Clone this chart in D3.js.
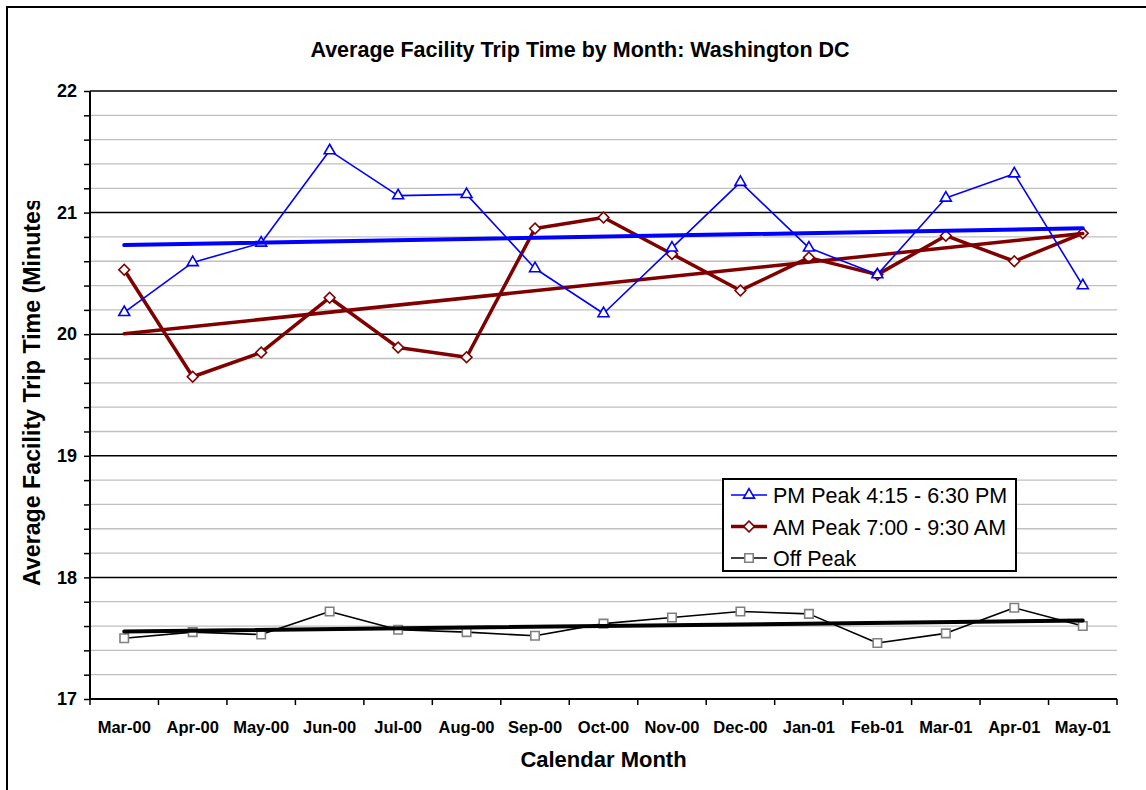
<!DOCTYPE html>
<html>
<head>
<meta charset="utf-8">
<script src="https://cdn.jsdelivr.net/npm/d3@7"></script>
<style>
    body { margin: 0; background: #fff; }
    svg { display: block; font-family: "Liberation Sans", Arial, sans-serif; }
</style>
</head>
<body>
<div id="chart"></div>
<script>
// Average facility trip time per month, three time-of-day series

const months = ['Mar-00', 'Apr-00', 'May-00', 'Jun-00', 'Jul-00', 'Aug-00', 'Sep-00', 'Oct-00',
    'Nov-00', 'Dec-00', 'Jan-01', 'Feb-01', 'Mar-01', 'Apr-01', 'May-01'];

const pmPeak = [20.18, 20.59, 20.75, 21.51, 21.14, 21.15, 20.54, 20.17,
    20.71, 21.25, 20.71, 20.49, 21.12, 21.32, 20.40];

const amPeak = [20.53, 19.65, 19.85, 20.30, 19.89, 19.81, 20.87, 20.96,
    20.66, 20.36, 20.63, 20.49, 20.81, 20.60, 20.83];

const offPeak = [17.50, 17.55, 17.53, 17.72, 17.57, 17.55, 17.52, 17.62,
    17.67, 17.72, 17.70, 17.46, 17.54, 17.75, 17.60];

const seriesNames = ['PM Peak 4:15 - 6:30 PM', 'AM Peak 7:00 - 9:30 AM', 'Off Peak'];

const yTicks = [17, 18, 19, 20, 21, 22];

const width = 1146, height = 790;
const plot = { left: 90, right: 1117, top: 91, bottom: 699 };

const svg = d3.select('#chart').append('svg')
    .attr('width', width)
    .attr('height', height);

// outer chart frame (right and bottom edges fall outside the picture)
svg.append('rect')
    .attr('x', 7).attr('y', 7)
    .attr('width', width + 20).attr('height', height + 20)
    .attr('fill', '#fff')
    .attr('stroke', '#000')
    .attr('stroke-width', 2);

const x = d3.scaleBand().domain(months).range([plot.left, plot.right]).padding(0);
const cx = m => x(m) + x.bandwidth() / 2;
const y = d3.scaleLinear().domain([17, 22]).range([plot.bottom, plot.top]);

// gridlines: grey every 0.2, black on whole minutes
const minor = d3.range(17.2, 22, 0.2).filter(v => Math.abs(v - Math.round(v)) > 0.01);
svg.append('g').selectAll('line')
    .data(minor)
    .enter().append('line')
    .attr('x1', plot.left).attr('x2', plot.right)
    .attr('y1', d => y(d)).attr('y2', d => y(d))
    .attr('stroke', '#c0c0c0')
    .attr('stroke-width', 1.3);

svg.append('g').selectAll('line')
    .data(yTicks.slice(1))
    .enter().append('line')
    .attr('x1', plot.left).attr('x2', plot.right)
    .attr('y1', d => y(d)).attr('y2', d => y(d))
    .attr('stroke', '#000')
    .attr('stroke-width', 1.5);

// y axis with a tick at every gridline, labels only on whole numbers
const yAxis = d3.axisLeft(y)
    .tickValues(d3.range(17, 22.01, 0.2))
    .tickSize(6)
    .tickPadding(7)
    .tickFormat(d => Math.abs(d - Math.round(d)) < 0.01 ? d3.format('d')(Math.round(d)) : '');

const yg = svg.append('g')
    .attr('transform', `translate(${plot.left},0)`)
    .call(yAxis);
yg.select('.domain').attr('stroke', '#000').attr('stroke-width', 2).attr('d', `M0,${plot.top}V${plot.bottom}`);
yg.selectAll('.tick line').attr('stroke', '#000').attr('stroke-width', 1.5);
yg.selectAll('.tick text')
    .attr('font-size', 18)
    .attr('font-weight', 'bold')
    .attr('fill', '#000');

// x axis: labels under each month, ticks on the band edges
const xAxis = d3.axisBottom(x).tickSize(0).tickPadding(22);
const xg = svg.append('g')
    .attr('transform', `translate(0,${plot.bottom})`)
    .call(xAxis);
xg.select('.domain').remove();
xg.selectAll('.tick text')
    .attr('font-size', 16.5)
    .attr('font-weight', 'bold')
    .attr('fill', '#000');

svg.append('line')
    .attr('x1', plot.left).attr('x2', plot.right)
    .attr('y1', plot.bottom).attr('y2', plot.bottom)
    .attr('stroke', '#000').attr('stroke-width', 2);

const edges = months.map(m => x(m)).concat([plot.right]);
svg.append('g').selectAll('line')
    .data(edges)
    .enter().append('line')
    .attr('x1', d => d).attr('x2', d => d)
    .attr('y1', plot.bottom).attr('y2', plot.bottom + 6)
    .attr('stroke', '#000').attr('stroke-width', 1.5);

// titles
svg.append('text')
    .attr('x', 580).attr('y', 57)
    .attr('text-anchor', 'middle')
    .attr('font-size', 21.5)
    .attr('font-weight', 'bold')
    .text('Average Facility Trip Time by Month: Washington DC');

svg.append('text')
    .attr('x', (plot.left + plot.right) / 2).attr('y', 767)
    .attr('text-anchor', 'middle')
    .attr('font-size', 22)
    .attr('font-weight', 'bold')
    .text('Calendar Month');

// y title is cut off at the top, as in the original
svg.append('clipPath').attr('id', 'ytitle-clip')
    .append('rect').attr('x', 0).attr('y', 201).attr('width', 80).attr('height', 500);

svg.append('g')
    .attr('clip-path', 'url(#ytitle-clip)')
    .append('text')
    .attr('transform', 'translate(40,586) rotate(-90)')
    .attr('font-size', 23.2)
    .attr('font-weight', 'bold')
    .text('Average Facility Trip Time (Minutes)');

// least squares trend line across the months
function trend(values) {
    const n = values.length;
    const xs = d3.range(n);
    const mx = d3.mean(xs), my = d3.mean(values);
    const slope = d3.sum(xs, i => (i - mx) * (values[i] - my)) / d3.sum(xs, i => (i - mx) * (i - mx));
    const icpt = my - slope * mx;
    return [0, n - 1].map(i => ({ m: months[i], v: icpt + slope * i }));
}

const line = d3.line().x(d => cx(d.m)).y(d => y(d.v));

const series = [
    { name: seriesNames[0], values: pmPeak, color: '#0000ff', width: 1.6, trendWidth: 4, trendColor: '#0000ff', marker: 'triangle', markerColor: '#0000ff' },
    { name: seriesNames[1], values: amPeak, color: '#800000', width: 3.5, trendWidth: 3.5, trendColor: '#800000', marker: 'diamond', markerColor: '#800000' },
    { name: seriesNames[2], values: offPeak, color: '#000', width: 1.6, trendWidth: 4, trendColor: '#000', marker: 'square', markerColor: '#808080' }
];

function markerPath(type) {
    if (type === 'triangle') return d3.symbol().type(d3.symbolTriangle).size(52)();
    return d3.symbol().type(d3.symbolSquare).size(type === 'diamond' ? 58 : 72)();
}

function drawMarker(g, type, color, px, py) {
    g.append('path')
        .attr('d', markerPath(type))
        .attr('transform', `translate(${px},${py})` + (type === 'diamond' ? ' rotate(45)' : ''))
        .attr('fill', '#fff')
        .attr('stroke', color)
        .attr('stroke-width', 1.6);
}

series.slice().reverse().forEach(s => {
    const pts = s.values.map((v, i) => ({ m: months[i], v: v }));
    svg.append('path')
        .datum(pts)
        .attr('d', line)
        .attr('fill', 'none')
        .attr('stroke', s.color)
        .attr('stroke-width', s.width)
        .attr('stroke-linejoin', 'round');

    const mg = svg.append('g');
    pts.forEach(p => drawMarker(mg, s.marker, s.markerColor, cx(p.m), y(p.v)));

    svg.append('path')
        .datum(trend(s.values))
        .attr('d', line)
        .attr('fill', 'none')
        .attr('stroke', s.trendColor)
        .attr('stroke-width', s.trendWidth)
        .attr('stroke-linecap', 'round');
});

// legend
const legend = svg.append('g').attr('transform', 'translate(723,479)');
legend.append('rect')
    .attr('width', 293).attr('height', 92)
    .attr('fill', '#fff')
    .attr('stroke', '#000')
    .attr('stroke-width', 2);

series.forEach((s, i) => {
    const ly = 16 + i * 31.5;
    legend.append('line')
        .attr('x1', 8).attr('x2', 44)
        .attr('y1', ly).attr('y2', ly)
        .attr('stroke', s.color)
        .attr('stroke-width', s.width);
    drawMarker(legend, s.marker, s.markerColor, 26, ly);
    legend.append('text')
        .attr('x', 50).attr('y', ly + 8)
        .attr('font-size', 21.5)
        .text(s.name);
});
</script>
</body>
</html>
